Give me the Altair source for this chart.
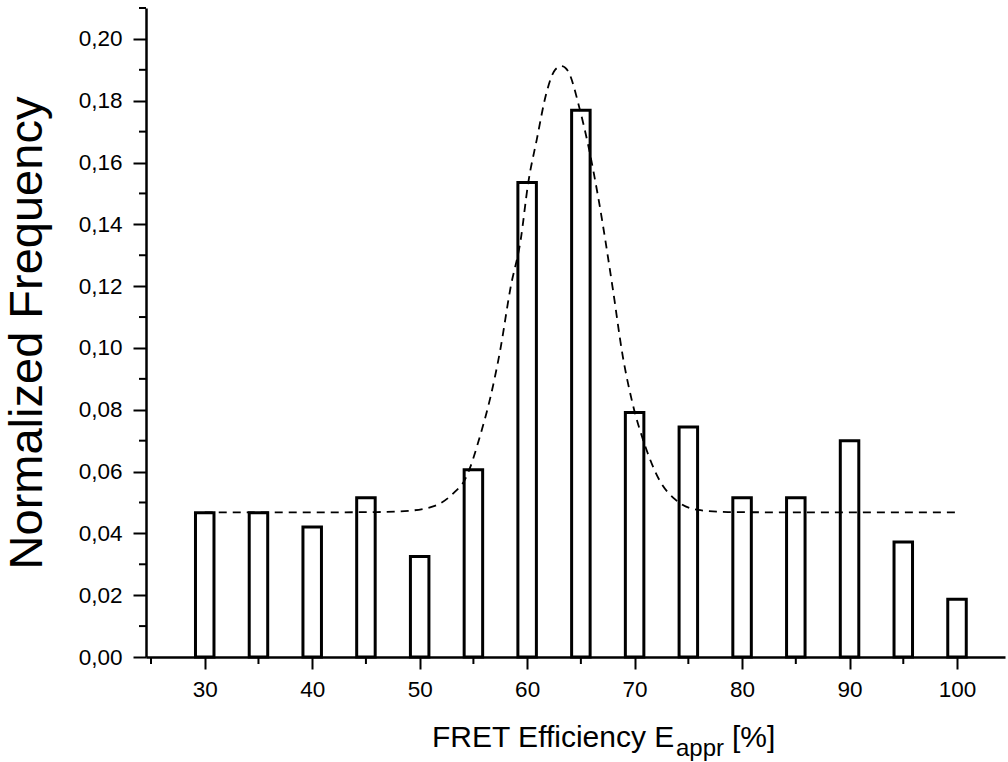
import altair as alt
import pandas as pd

# Histogram of apparent FRET efficiencies (bin centres in %) and normalized counts
efficiency = [30, 35, 40, 45, 50, 55, 60, 65, 70, 75, 80, 85, 90, 95, 100]
frequency = [0.0467, 0.0467, 0.0421, 0.0515, 0.0325, 0.0606, 0.1535, 0.1769,
             0.0791, 0.0744, 0.0515, 0.0515, 0.0700, 0.0372, 0.0187]

# Fitted peak curve (dashed), sampled along the trace
fit_x = [30, 40, 46, 48.6, 51.4, 53.2, 54.2, 55.7, 56.6, 57.5, 58.45, 59.4, 60.1,
         60.9, 61.8, 62.6, 63.2, 63.8, 64.9, 65.7, 66.6, 67.96, 68.9, 69.8, 71.0,
         72.3, 73.8, 75.9, 78.7, 85, 100]
fit_y = [0.0468, 0.0468, 0.0469, 0.0472, 0.0489, 0.0532, 0.0573, 0.0725, 0.0843,
         0.0994, 0.1194, 0.1350, 0.1534, 0.1675, 0.1826, 0.1900, 0.1912, 0.1896,
         0.1772, 0.1653, 0.1490, 0.1194, 0.0973, 0.0822, 0.0681, 0.0573, 0.0509,
         0.0476, 0.0469, 0.0468, 0.0468]

# Axis ticks
x_major = [30, 40, 50, 60, 70, 80, 90, 100]
x_minor = [25, 35, 45, 55, 65, 75, 85, 95]
y_major = [0.00, 0.02, 0.04, 0.06, 0.08, 0.10, 0.12, 0.14, 0.16, 0.18, 0.20]
y_minor = [0.01, 0.03, 0.05, 0.07, 0.09, 0.11, 0.13, 0.15, 0.17, 0.19, 0.21]

FONT = "Liberation Sans"
W, H = 859, 649

bars_df = pd.DataFrame({"e": efficiency, "f": frequency})
fit_df = pd.DataFrame({"e": fit_x, "f": fit_y})
y_minor_df = pd.DataFrame({"f": y_minor})
x_minor_df = pd.DataFrame({"e": x_minor})

xs = alt.Scale(domain=[25, 104], nice=False, zero=False)
ys = alt.Scale(domain=[0, 0.21], nice=False, zero=True)

x_axis = alt.Axis(values=x_major, format="d", title=None, grid=False,
                  tickSize=12, tickWidth=2, tickColor="black",
                  domainColor="black", domainWidth=2.5,
                  labelFont=FONT, labelFontSize=22.5, labelColor="black",
                  labelPadding=9, labelFlush=False)
y_axis = alt.Axis(values=y_major,
                  labelExpr="replace(format(datum.value, '.2f'), '.', ',')",
                  title="Normalized Frequency", grid=False,
                  tickSize=13, tickWidth=2, tickColor="black",
                  domainColor="black", domainWidth=2.5,
                  labelFont=FONT, labelFontSize=22.5, labelColor="black",
                  labelPadding=11, labelFlush=False,
                  titleFont=FONT, titleFontSize=47, titleFontWeight="normal",
                  titleColor="black", titlePadding=27)

X = alt.X("e:Q", scale=xs, axis=x_axis)
Y = alt.Y("f:Q", scale=ys, axis=y_axis)

bars = alt.Chart(bars_df).mark_bar(
    fill="white", stroke="black", strokeWidth=3, size=18.5
).encode(x=X, y=Y)

fit = alt.Chart(fit_df).mark_line(
    color="black", strokeWidth=1.8, strokeDash=[8, 6], interpolate="monotone"
).encode(x=X, y=Y)

y_minor_ticks = alt.Chart(y_minor_df).mark_rule(
    color="black", strokeWidth=2
).encode(y=Y, x=alt.value(-7), x2=alt.value(0))

x_minor_ticks = alt.Chart(x_minor_df).mark_rule(
    color="black", strokeWidth=2
).encode(x=X, y=alt.value(H), y2=alt.value(H + 7))

# x-axis title with subscript
title_main = alt.Chart(pd.DataFrame({"t": ["FRET Efficiency E"]})).mark_text(
    font=FONT, fontSize=30, color="black", align="left", baseline="alphabetic"
).encode(text="t:N", x=alt.value(286), y=alt.value(739))

title_sub = alt.Chart(pd.DataFrame({"t": ["appr"]})).mark_text(
    font=FONT, fontSize=24, color="black", align="left", baseline="alphabetic"
).encode(text="t:N", x=alt.value(530), y=alt.value(748))

title_unit = alt.Chart(pd.DataFrame({"t": ["[%]"]})).mark_text(
    font=FONT, fontSize=30, color="black", align="left", baseline="alphabetic"
).encode(text="t:N", x=alt.value(586), y=alt.value(739))

chart = alt.layer(
    bars, fit, y_minor_ticks, x_minor_ticks, title_main, title_sub, title_unit
).properties(
    width=W, height=H,
    autosize=alt.AutoSizeParams(type="none"),
    padding={"left": 146, "top": 8, "right": 3, "bottom": 105},
).configure(background="white").configure_view(stroke=None)

chart.save("out.html", embed_options={"renderer": "svg", "actions": False})
